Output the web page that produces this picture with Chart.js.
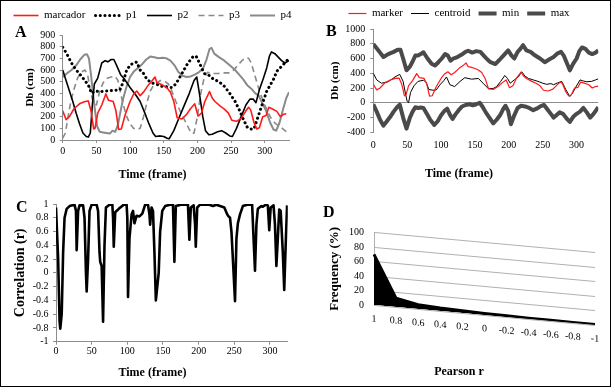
<!DOCTYPE html>
<html><head><meta charset="utf-8">
<script src="https://cdn.jsdelivr.net/npm/chart.js@4.4.1/dist/chart.umd.min.js"></script>
<style>
html,body{margin:0;padding:0;background:#fff;}
#wrap{position:relative;width:615px;height:392px;overflow:hidden;background:#fff;}
.panel{position:absolute;}
.panel canvas{display:block;}
.letter{position:absolute;font-family:'Liberation Serif','Times New Roman',serif;font-weight:bold;font-size:16px;line-height:16px;color:#000;}
#frame{position:absolute;left:0;top:0;width:609px;height:385px;border:1.5px solid #000;pointer-events:none;}
</style></head>
<body><div id="wrap">
<div class="panel" style="left:0;top:0;width:305px;height:190px"><canvas id="cA" width="305" height="190"></canvas></div>
<div class="panel" style="left:305px;top:0;width:308px;height:190px"><canvas id="cB" width="308" height="190"></canvas></div>
<div class="panel" style="left:0;top:190px;width:305px;height:199px"><canvas id="cC" width="305" height="199"></canvas></div>
<div class="panel" style="left:305px;top:190px;width:308px;height:199px"><canvas id="cD" width="308" height="199"></canvas></div>
<span class="letter" style="left:15px;top:24px">A</span>
<span class="letter" style="left:326px;top:23px">B</span>
<span class="letter" style="left:16px;top:199px">C</span>
<span class="letter" style="left:323px;top:204px">D</span>
<div id="frame"></div>
</div>
<script>
// ---------- data ----------
const frameTicks = [0, 50, 100, 150, 200, 250, 300];
const dbTicksA = [0, 100, 200, 300, 400, 500, 600, 700, 800, 900];
const dbTicksB = [-400, -200, 0, 200, 400, 600, 800, 1000];
const corrTicks = [-1, -0.8, -0.6, -0.4, -0.2, 0, 0.2, 0.4, 0.6, 0.8, 1];
const freqTicks = [0, 20, 40, 60, 80, 100];
const pearsonLabels = ['1', '0.8', '0.6', '0.4', '0.2', '0', '-0.2', '-0.4', '-0.6', '-0.8', '-1'];

// [frame, Db (cm)]
const marker = [[0,250],[5,175],[10,200],[17,270],[25,310],[33,330],[38,335],[42,250],[46,95],[48,100],[52,230],[58,300],[64,395],[68,340],[75,330],[79,250],[83,90],[87,95],[93,220],[100,330],[105,390],[110,420],[115,380],[120,410],[127,470],[133,510],[137,540],[140,490],[145,480],[150,465],[155,445],[160,410],[165,330],[170,190],[177,180],[184,220],[190,270],[196,310],[201,205],[206,230],[211,330],[218,415],[222,360],[226,330],[234,290],[240,265],[246,230],[251,170],[258,160],[265,185],[272,250],[276,280],[279,260],[284,150],[288,95],[292,105],[297,200],[302,210],[306,280],[310,270],[318,245],[323,200],[328,220],[332,225]];
const p1 = [[0,795],[6,740],[13,660],[20,600],[26,560],[33,510],[38,470],[43,400],[48,420],[55,415],[65,420],[75,425],[85,430],[90,500],[95,600],[100,640],[105,660],[110,668],[115,600],[120,570],[125,520],[132,490],[140,477],[147,460],[155,455],[162,450],[168,480],[174,540],[180,600],[186,660],[193,710],[198,720],[203,660],[210,570],[217,555],[224,520],[232,500],[240,460],[248,400],[256,330],[262,260],[268,180],[274,110],[278,95],[284,95],[293,250],[303,420],[313,520],[318,590],[328,650],[336,700]];
const p2 = [[0,600],[5,510],[10,420],[15,330],[20,230],[25,140],[30,60],[35,30],[38,25],[41,60],[44,300],[47,480],[52,530],[58,660],[63,680],[67,670],[72,690],[76,690],[80,640],[86,560],[92,520],[100,450],[108,390],[115,330],[122,230],[128,140],[134,60],[138,30],[145,35],[150,30],[155,15],[158,10],[165,80],[172,180],[180,290],[188,400],[195,510],[199,540],[203,400],[208,200],[212,80],[217,45],[222,50],[230,70],[236,80],[242,60],[248,35],[252,30],[258,100],[265,200],[272,300],[278,350],[283,350],[287,320],[292,430],[298,530],[303,620],[307,720],[310,755],[315,740],[320,710],[325,680],[330,660],[336,680]];
const p3 = [[0,15],[4,60],[8,200],[12,330],[17,440],[22,530],[27,580],[33,600],[37,560],[41,420],[45,330],[50,300],[55,420],[60,490],[66,530],[72,540],[78,545],[82,510],[86,400],[90,300],[95,200],[100,140],[105,100],[110,90],[115,100],[120,200],[125,320],[130,420],[135,470],[140,490],[145,510],[152,500],[157,480],[162,420],[168,330],[175,240],[182,160],[188,90],[192,55],[195,60],[200,200],[205,400],[210,530],[215,580],[222,570],[230,570],[240,575],[248,575],[254,600],[260,640],[266,680],[272,705],[276,700],[280,660],[285,560],[292,420],[300,300],[308,200],[316,140],[324,110],[330,80],[336,55]];
const p4 = [[0,540],[6,570],[13,600],[20,640],[26,690],[32,730],[36,735],[39,700],[42,560],[45,400],[48,250],[51,120],[55,70],[60,65],[65,60],[70,55],[74,80],[78,70],[82,130],[86,250],[90,360],[95,460],[100,540],[106,590],[112,620],[118,650],[124,690],[130,715],[136,710],[142,700],[148,705],[154,700],[160,680],[166,640],[172,580],[178,550],[184,540],[190,545],[196,560],[202,580],[208,610],[213,680],[218,780],[221,790],[225,740],[232,710],[240,680],[248,640],[256,600],[262,560],[268,520],[274,470],[280,440],[286,400],[291,380],[296,320],[302,250],[308,150],[313,90],[317,80],[322,150],[328,280],[332,360],[336,410]];

const centroid = [[0,400],[5,310],[12,265],[22,285],[32,350],[39,385],[44,290],[48,100],[50,20],[52,0],[55,140],[60,230],[66,290],[74,305],[78,280],[82,180],[88,170],[93,175],[98,240],[104,300],[108,350],[113,245],[120,220],[128,290],[135,340],[145,320],[155,330],[162,265],[170,190],[177,195],[182,220],[188,290],[194,370],[198,330],[202,265],[208,310],[214,350],[219,420],[224,360],[229,330],[236,310],[243,290],[250,265],[256,250],[262,260],[266,245],[272,270],[278,290],[284,180],[290,85],[294,130],[298,200],[305,310],[310,295],[315,285],[322,290],[328,310],[332,325]];
const maxDb = [[0,795],[5,740],[10,680],[15,620],[22,660],[30,690],[36,720],[40,720],[44,600],[49,440],[54,490],[58,560],[62,640],[66,640],[70,660],[74,685],[80,600],[86,530],[91,505],[96,550],[101,600],[106,660],[110,640],[114,570],[118,600],[124,620],[130,650],[136,690],[140,705],[146,680],[152,700],[158,690],[163,640],[168,590],[173,550],[180,525],[186,580],[192,640],[199,710],[204,640],[208,600],[213,690],[217,730],[221,780],[226,710],[232,690],[239,640],[246,600],[253,550],[260,590],[266,620],[272,670],[277,690],[281,640],[286,530],[290,440],[295,530],[300,600],[304,700],[308,750],[313,730],[318,680],[323,660],[328,680],[332,710]];
const minDb = [[0,-20],[5,-120],[10,-230],[15,-310],[20,-250],[25,-190],[30,-120],[35,-60],[39,-25],[44,-200],[49,-350],[54,-200],[58,-120],[62,-60],[66,-70],[70,-65],[74,-70],[79,-150],[84,-230],[90,-300],[95,-250],[100,-170],[105,-110],[109,-80],[113,-160],[117,-220],[121,-160],[126,-100],[131,-50],[136,-30],[142,-20],[147,-35],[152,-20],[157,0],[161,-50],[166,-130],[172,-210],[177,-280],[182,-230],[187,-170],[192,-80],[195,-40],[199,-110],[203,-290],[208,-170],[213,-70],[218,-40],[224,-50],[230,-70],[236,-100],[241,-80],[247,-45],[252,-30],[257,-90],[262,-150],[266,-200],[270,-170],[275,-130],[280,-150],[285,-210],[290,-260],[295,-190],[300,-150],[305,-120],[310,-70],[315,-130],[320,-200],[325,-150],[332,-60]];

// [frame, r]
const correlation = [[0,0.95],[3,0.2],[5,-0.7],[6,-0.81],[8,-0.6],[10,0.3],[12,0.8],[15,0.93],[19,0.97],[26,0.99],[28,0.9],[29,0.33],[31,0.9],[33,0.98],[38,0.98],[40,0.8],[42,0.0],[43,-0.27],[45,0.2],[47,0.9],[50,0.99],[57,0.99],[59,0.9],[61,0.3],[62,0.16],[64,0.1],[66,-0.71],[68,0.4],[70,0.95],[75,0.99],[79,0.99],[80,0.8],[81,0.38],[83,0.88],[88,0.93],[95,0.99],[99,0.99],[100,0.8],[101,-0.35],[103,0.5],[106,0.85],[108,0.9],[110,0.72],[113,0.83],[117,0.82],[121,0.86],[125,0.99],[129,0.99],[131,0.85],[132,0.7],[134,0.95],[136,0.9],[138,0.3],[140,-0.4],[142,-0.2],[144,0.0],[146,0.6],[149,0.9],[153,0.97],[160,0.99],[164,0.99],[166,0.16],[168,0.97],[175,0.99],[185,0.99],[187,0.48],[189,0.95],[193,0.98],[195,0.7],[196,0.38],[198,0.95],[202,0.99],[215,0.99],[220,0.97],[225,0.99],[230,0.97],[236,0.95],[240,0.85],[242,0.82],[244,0.8],[246,0.6],[248,0.2],[251,-0.41],[253,0.5],[255,0.72],[258,0.85],[262,0.97],[268,0.99],[275,0.99],[277,0.5],[279,0.03],[281,0.7],[283,0.93],[288,0.97],[290,0.96],[294,0.99],[297,0.98],[299,0.62],[301,0.95],[305,0.98],[307,0.7],[309,0.1],[311,0.5],[313,0.92],[315,0.9],[318,0.3],[320,-0.25],[322,0.4],[324,0.98]];

// frequency (%) per Pearson r bin
const frequency = [70, 12, 6, 4, 3, 2, 1.5, 1, 1, 0.5, 0.5];

// ---------- helpers ----------
const SERIF = "'Liberation Serif','Times New Roman',serif";
Chart.defaults.font.family = SERIF;
Chart.defaults.color = '#000';
const AXIS = '#8c8c8c';
const tickFont = { family: SERIF, size: 10 };
const titleFont = (s) => ({ family: SERIF, size: s, weight: 'bold' });

function setTicks(list) { return (s) => { s.ticks = list.map(v => ({ value: v })); }; }
function legendGap(extra) {
  return { id: 'legendGap', beforeInit(chart) {
    const lg = chart.legend; if (!lg) return;
    const fit = lg.fit;
    lg.fit = function () { fit.call(this); this.height += extra; };
  } };
}
function lineLegendLabels(chart) {
  const items = Chart.defaults.plugins.legend.labels.generateLabels(chart);
  items.forEach(it => {
    const ds = chart.data.datasets[it.datasetIndex];
    it.lineDash = ds.borderDash || [];
    it.lineWidth = ds.borderWidth;
    it.lineCap = ds.borderCapStyle || 'butt';
    it.strokeStyle = ds.borderColor;
  });
  return items;
}
// slanted floor of the 3-D style panel D (titles and y labels kept upright)
function skewFloor(k) {
  const unskew = (chart, obj, fn) => {
    const f = obj[fn];
    obj[fn] = function (...a) {
      const c = chart.ctx, L = chart.chartArea.left;
      c.save(); c.transform(1, -k, 0, 1, 0, k * L); const r = f.apply(this, a); c.restore(); return r;
    };
  };
  return {
    id: 'skewFloor',
    beforeInit(chart) { if (chart.titleBlock) unskew(chart, chart.titleBlock, 'draw'); },
    afterLayout(chart) {
      const ys = chart.scales.y;
      if (ys && !ys.__unskewed) { ys.__unskewed = true; unskew(chart, ys, 'drawTitle'); unskew(chart, ys, 'drawLabels'); }
    },
    beforeDraw(chart) { const c = chart.ctx, L = chart.chartArea.left; c.save(); c.transform(1, k, 0, 1, 0, -k * L); },
    afterDraw(chart) { chart.ctx.restore(); }
  };
}
const base = { responsive: false, animation: false, devicePixelRatio: 1, events: [] };
const bottomTitle = (text, pb) => ({ display: true, position: 'bottom', text, font: titleFont(12), color: '#000', padding: { top: 4, bottom: pb } });

// ---------- A ----------
new Chart(document.getElementById('cA'), {
  type: 'line',
  data: { datasets: [
    { label: 'marcador', data: marker, borderColor: '#ff1a1a', borderWidth: 1.6 },
    { label: 'p1', data: p1, borderColor: '#000', borderWidth: 3, borderDash: [0.1, 4.6], borderCapStyle: 'round' },
    { label: 'p2', data: p2, borderColor: '#000', borderWidth: 1.6 },
    { label: 'p3', data: p3, borderColor: '#8a8a8a', borderWidth: 1.6, borderDash: [6, 4] },
    { label: 'p4', data: p4, borderColor: '#8a8a8a', borderWidth: 2 }
  ] },
  options: Object.assign({}, base, {
    elements: { point: { radius: 0 }, line: { tension: 0, borderJoinStyle: 'round' } },
    layout: { padding: 0 },
    plugins: {
      legend: { position: 'top', labels: { usePointStyle: true, pointStyle: 'line', pointStyleWidth: 25, padding: 10, font: { family: SERIF, size: 11 }, color: '#000', generateLabels: lineLegendLabels } },
      title: bottomTitle('Time (frame)', 8),
      tooltip: { enabled: false }
    },
    scales: {
      x: { type: 'linear', min: 0, max: 336, afterBuildTicks: setTicks(frameTicks),
        afterFit: s => { s.height = 23.6; s.paddingRight = 16; },
        grid: { drawOnChartArea: false, tickLength: 3, color: AXIS }, border: { color: AXIS },
        ticks: { padding: 2, font: tickFont, color: '#000', maxRotation: 0, autoSkip: false } },
      y: { min: 0, max: 900, afterBuildTicks: setTicks(dbTicksA), afterFit: s => { s.width = 62.7; },
        grid: { drawOnChartArea: false, tickLength: 3, color: AXIS }, border: { color: AXIS },
        ticks: { padding: 4.5, font: tickFont, color: '#000', autoSkip: false, callback: v => String(v) },
        title: { display: true, text: 'Db (cm)', font: titleFont(11), color: '#000', padding: { top: 23.4, bottom: 0 } } }
    }
  }),
  plugins: [legendGap(4)]
});

// ---------- B ----------
new Chart(document.getElementById('cB'), {
  type: 'line',
  data: { datasets: [
    { label: 'marker', data: marker, borderColor: '#ff1a1a', borderWidth: 1.2 },
    { label: 'centroid', data: centroid, borderColor: '#000', borderWidth: 1 },
    { label: 'min', data: minDb, borderColor: '#4a4a4a', borderWidth: 4 },
    { label: 'max', data: maxDb, borderColor: '#4a4a4a', borderWidth: 4 }
  ] },
  options: Object.assign({}, base, {
    elements: { point: { radius: 0 }, line: { tension: 0, borderJoinStyle: 'round' } },
    layout: { padding: 0 },
    plugins: {
      legend: { position: 'top', labels: { usePointStyle: true, pointStyle: 'line', pointStyleWidth: 18, padding: 8, font: { family: SERIF, size: 11 }, color: '#000', generateLabels: lineLegendLabels } },
      title: bottomTitle('Time (frame)', 8.8),
      tooltip: { enabled: false }
    },
    scales: {
      x: { type: 'linear', min: 0, max: 332, afterBuildTicks: setTicks(frameTicks),
        afterFit: s => { s.height = 30.5; s.paddingRight = 14.7; },
        grid: { display: false, drawTicks: false }, border: { display: false },
        ticks: { padding: 7.4, font: tickFont, color: '#000', maxRotation: 0, autoSkip: false } },
      y: { min: -400, max: 1000, afterBuildTicks: setTicks(dbTicksB), afterFit: s => { s.width = 68.3; },
        grid: { drawOnChartArea: true, tickLength: 3, tickColor: AXIS, color: c => (c.tick && c.tick.value === 0) ? AXIS : 'rgba(0,0,0,0)' },
        border: { color: AXIS },
        ticks: { padding: 5, font: tickFont, color: '#000', autoSkip: false, callback: v => String(v) },
        title: { display: true, text: 'Db (cm)', font: titleFont(11), color: '#000', padding: { top: 23.4, bottom: 0 } } }
    }
  })
});

// ---------- C ----------
new Chart(document.getElementById('cC'), {
  type: 'line',
  data: { datasets: [
    { label: 'Correlation (r)', data: correlation, borderColor: '#000', borderWidth: 2.6 }
  ] },
  options: Object.assign({}, base, {
    elements: { point: { radius: 0 }, line: { tension: 0, borderJoinStyle: 'round' } },
    layout: { padding: { top: 14, left: 0, right: 0, bottom: 0 } },
    plugins: { legend: { display: false }, title: bottomTitle('Time (frame)', 9.1), tooltip: { enabled: false } },
    scales: {
      x: { type: 'linear', min: 0, max: 325, afterBuildTicks: setTicks(frameTicks),
        afterFit: s => { s.height = 19.8; s.paddingRight = 17.2; },
        grid: { drawOnChartArea: false, tickLength: 3, color: AXIS }, border: { color: AXIS },
        ticks: { padding: 0.5, font: tickFont, color: '#000', maxRotation: 0, autoSkip: false } },
      y: { min: -1, max: 1, afterBuildTicks: setTicks(corrTicks), afterFit: s => { s.width = 56; },
        grid: { drawOnChartArea: false, tickLength: 3, color: AXIS }, border: { color: AXIS },
        ticks: { padding: 4.5, font: tickFont, color: '#000', autoSkip: false, callback: v => String(Math.round(v * 10) / 10) },
        title: { display: true, text: 'Correlation (r)', font: titleFont(14), color: '#000', padding: { top: 11.6, bottom: 0 } } }
    }
  })
});

// ---------- D ----------
new Chart(document.getElementById('cD'), {
  type: 'line',
  data: { labels: pearsonLabels, datasets: [
    { label: 'Frequency (%)', data: frequency, borderColor: '#000', backgroundColor: '#000', borderWidth: 3, fill: 'origin' }
  ] },
  options: Object.assign({}, base, {
    elements: { point: { radius: 0 }, line: { tension: 0, borderJoinStyle: 'round' } },
    layout: { padding: { top: 42.7, left: 0, right: 0, bottom: 0 } },
    plugins: { legend: { display: false }, title: bottomTitle('Pearson r', 10.1), tooltip: { enabled: false } },
    scales: {
      x: { type: 'category', offset: false,
        afterFit: s => { s.height = 55.5; s.paddingRight = 18; },
        grid: { display: false, drawTicks: false }, border: { display: false },
        ticks: { padding: 8, font: tickFont, color: '#000', maxRotation: 0, autoSkip: false } },
      y: { min: 0, max: 100, afterBuildTicks: setTicks(freqTicks), afterFit: s => { s.width = 69; },
        grid: { drawOnChartArea: true, drawTicks: false, color: '#b0b0b0' }, border: { color: '#b0b0b0' },
        ticks: { padding: 10, font: tickFont, color: '#000', autoSkip: false, callback: v => String(v) },
        title: { display: true, text: 'Frequency (%)', font: titleFont(13), color: '#000', padding: { top: 22.2, bottom: 0 } } }
    }
  }),
  plugins: [skewFloor(0.09)]
});
</script>
</body></html>
